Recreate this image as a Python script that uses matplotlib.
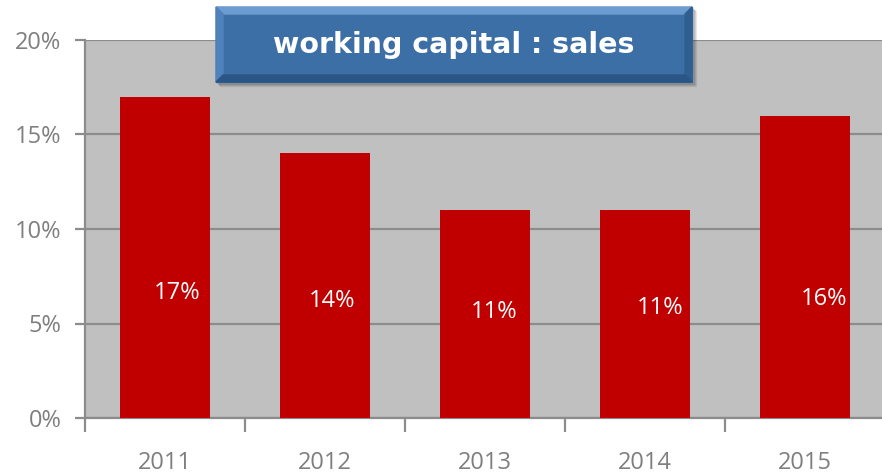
import numpy as np
import matplotlib.pyplot as plt
from matplotlib.patches import Rectangle, Polygon

years = ["2011", "2012", "2013", "2014", "2015"]
ratio = [17, 14, 11, 11, 16]   # working capital / sales, %
label_y = [6.6, 6.2, 5.6, 5.8, 6.3]
label_dx = [0.075, 0.045, 0.055, 0.095, 0.12]

W, H = 882, 474
fig = plt.figure(figsize=(W / 100, H / 100), dpi=100)

# pixel -> figure fraction (y measured from top)
def fx(px):
    return px / W

def fy(py):
    return 1 - py / H

ax = fig.add_axes([fx(85), fy(418), 800 / W, 378 / H])
ax.set_facecolor("#c0c0c0")

x = np.arange(len(years))
ax.bar(x, ratio, width=0.56, color="#c00000", zorder=3)
for i, v in enumerate(ratio):
    ax.text(x[i] + label_dx[i], label_y[i], f"{v}%", color="white",
            fontsize=17, ha="center", va="center", zorder=4,
            family="Open Sans")

ax.set_xlim(-0.5, 4.5)
ax.set_ylim(0, 20)
ax.set_yticks([0, 5, 10, 15, 20])
ax.set_yticklabels([f"{t}%" for t in [0, 5, 10, 15, 20]])
ax.yaxis.grid(True, color="#8c8c8c", linewidth=1.6, zorder=1)
ax.set_axisbelow(True)

# category boundaries carry the x ticks, labels sit at the centres
ax.set_xticks(np.arange(-0.5, 5, 1.0))
ax.set_xticklabels([])
ax.set_xticks(x, minor=True)
ax.set_xticklabels(years, minor=True)
ax.tick_params(axis="x", which="major", length=10, width=1.6, color="#8c8c8c")
ax.tick_params(axis="x", which="minor", length=0, pad=24)
ax.tick_params(axis="y", length=7, width=1.6, color="#8c8c8c", pad=10)
for lab in ax.get_xticklabels(minor=True) + ax.get_yticklabels():
    lab.set_color("#7f7f7f")
    lab.set_fontsize(17)
    lab.set_family("Open Sans")

for s in ["top", "right"]:
    ax.spines[s].set_visible(False)
for s in ["left", "bottom"]:
    ax.spines[s].set_color("#8c8c8c")
    ax.spines[s].set_linewidth(1.6)

# title box with bevelled edges and a soft shadow
x0, y0, x1, y1, b = 216, 7, 692, 82, 7
tr = fig.transFigure
for k, a in enumerate([0.10, 0.07, 0.05]):
    off = 2 + k
    fig.patches.append(Rectangle((fx(x0 + off), fy(y1 + off)), (x1 - x0) / W, (y1 - y0) / H,
                                 transform=tr, color="black", alpha=a, zorder=5))
fig.patches.append(Rectangle((fx(x0), fy(y1)), (x1 - x0) / W, (y1 - y0) / H,
                             transform=tr, color="#3b6fa6", zorder=6))
bevels = [
    ([(x0, y0), (x1, y0), (x1 - b, y0 + b), (x0 + b, y0 + b)], "#6b9bd0"),  # top
    ([(x0, y0), (x0 + b, y0 + b), (x0 + b, y1 - b), (x0, y1)], "#4f82bb"),  # left
    ([(x1, y0), (x1, y1), (x1 - b, y1 - b), (x1 - b, y0 + b)], "#2f5e90"),  # right
    ([(x0, y1), (x0 + b, y1 - b), (x1 - b, y1 - b), (x1, y1)], "#2a5584"),  # bottom
]
for pts, c in bevels:
    fig.patches.append(Polygon([(fx(px), fy(py)) for px, py in pts], closed=True,
                               transform=tr, color=c, zorder=7))
fig.text(fx(454), fy(45), "working capital : sales", color="white",
         fontsize=20.5, fontweight="bold", ha="center", va="center", zorder=8)

fig.savefig("out.png", dpi=100)
